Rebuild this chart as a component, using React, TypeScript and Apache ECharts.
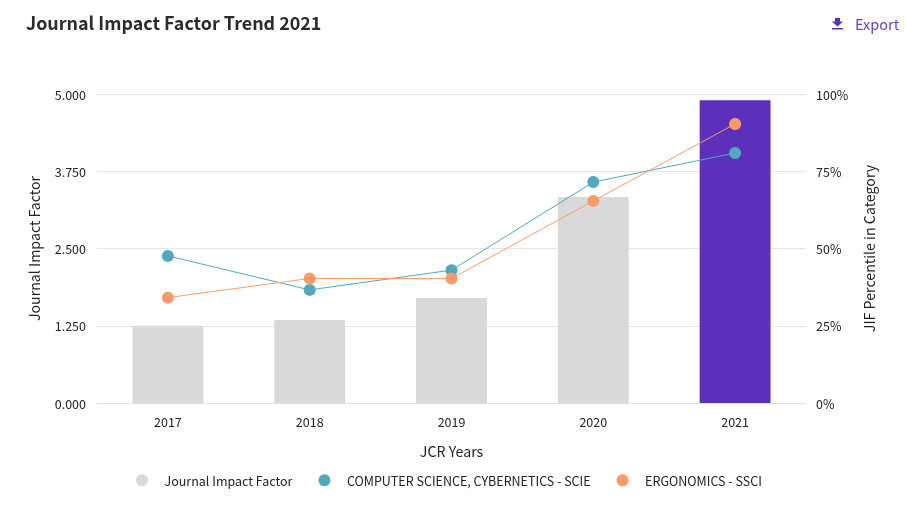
import React, { useEffect, useRef } from "react";
import * as echarts from "echarts";

const FONT = '"Noto Sans CJK SC", "Noto Sans", sans-serif';
const years = ["2017", "2018", "2019", "2020", "2021"];
const jif = [1.25, 1.343, 1.7, 3.333, 4.9];
const cyber = [47.6, 36.6, 43, 71.5, 80.9];
const ergo = [34.1, 40.3, 40.3, 65.4, 90.3];
const jifName = "Journal Impact Factor";
const cyberName = "COMPUTER SCIENCE, CYBERNETICS - SCIE";
const ergoName = "ERGONOMICS - SSCI";
const GRAY = "#d9d9d9";
const PURPLE = "#5c30bb";
const TEAL = "#53a8bd";
const ORANGE = "#fb9b6b";
const INK = "#222222";

export default function App() {
  const ref = useRef<HTMLDivElement>(null);
  useEffect(() => {
    const chart = echarts.init(ref.current!, undefined, { renderer: "svg" });
    chart.setOption({
      animation: false,
      textStyle: { fontFamily: FONT },
      title: {
        text: "Journal Impact Factor Trend 2021",
        left: 21,
        top: 8,
        textStyle: { fontFamily: FONT, fontSize: 17.9, fontWeight: 600, color: "#2b2b2b" },
      },
      grid: { left: 97, right: 100, top: 94, bottom: 108 },
      legend: {
        left: 131,
        top: 469,
        itemWidth: 12,
        itemHeight: 12,
        itemGap: 26,
        icon: "circle",
        data: [
          { name: jifName, itemStyle: { color: GRAY } },
          { name: cyberName, itemStyle: { color: TEAL } },
          { name: ergoName, itemStyle: { color: ORANGE } },
        ],
        textStyle: { fontFamily: FONT, fontSize: 12.5, color: INK, padding: [0, 0, 0, 11.5] },
      },
      xAxis: {
        type: "category",
        data: years,
        name: "JCR Years",
        nameLocation: "middle",
        nameGap: 41,
        nameTextStyle: { fontFamily: FONT, fontSize: 14.2, color: INK },
        axisTick: { show: false },
        axisLine: { lineStyle: { color: "#e0e0e0" } },
        axisLabel: { fontFamily: FONT, fontSize: 12.5, color: INK, margin: 12 },
      },
      yAxis: [
        {
          type: "value",
          min: 0,
          max: 5,
          interval: 1.25,
          name: jifName,
          nameLocation: "middle",
          nameGap: 56,
          nameTextStyle: { fontFamily: FONT, fontSize: 14.2, color: INK },
          axisLabel: {
            fontFamily: FONT,
            fontSize: 12.5,
            color: INK,
            formatter: (v: number) => v.toFixed(3),
            margin: 11,
            padding: [0, 0, 2, 0],
          },
          axisLine: { show: false },
          axisTick: { show: false },
          splitLine: { lineStyle: { color: "#e6e6e6" } },
        },
        {
          type: "value",
          min: 0,
          max: 100,
          interval: 25,
          name: "JIF Percentile in Category",
          nameLocation: "middle",
          nameGap: 56,
          nameTextStyle: { fontFamily: FONT, fontSize: 14.2, color: INK },
          axisLabel: {
            fontFamily: FONT,
            fontSize: 12.5,
            color: INK,
            formatter: "{value}%",
            margin: 10,
            padding: [0, 0, 2, 0],
          },
          axisLine: { show: false },
          axisTick: { show: false },
          splitLine: { show: false },
        },
      ],
      series: [
        {
          name: jifName,
          type: "bar",
          barWidth: "50%",
          data: jif.map((v, i) => ({
            value: v,
            itemStyle: { color: i === jif.length - 1 ? PURPLE : GRAY },
          })),
        },
        {
          name: cyberName,
          type: "line",
          yAxisIndex: 1,
          data: cyber,
          symbol: "circle",
          symbolSize: 12,
          itemStyle: { color: TEAL },
          lineStyle: { color: TEAL, width: 1 },
        },
        {
          name: ergoName,
          type: "line",
          yAxisIndex: 1,
          data: ergo,
          symbol: "circle",
          symbolSize: 12,
          itemStyle: { color: ORANGE },
          lineStyle: { color: ORANGE, width: 1 },
        },
      ],
      graphic: [
        {
          type: "polygon",
          shape: { points: [[835, 18], [840, 18], [840, 21.5], [843, 21.5], [837.5, 26.5], [832, 21.5], [835, 21.5]] },
          style: { fill: PURPLE },
        },
        { type: "rect", shape: { x: 832, y: 28, width: 11, height: 1.5 }, style: { fill: PURPLE } },
        {
          type: "text",
          x: 855,
          y: 16,
          style: { text: "Export", fontFamily: FONT, fontSize: 14.5, fill: "#6a3fc7" },
        },
      ],
    });
    return () => chart.dispose();
  }, []);
  return <div ref={ref} style={{ position: "fixed", left: 0, top: 0, width: 906, height: 511 }} />;
}
